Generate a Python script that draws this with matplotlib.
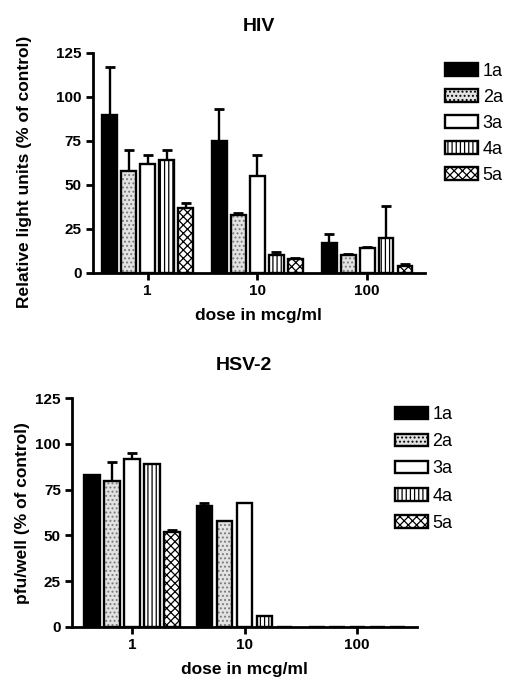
import matplotlib
matplotlib.use("Agg")
import matplotlib.pyplot as plt
import numpy as np
from matplotlib.patches import Patch

plt.rcParams['font.family'] = ['Liberation Sans', 'DejaVu Sans']
plt.rcParams['hatch.linewidth'] = 0.9

doses = ["1", "10", "100"]
compounds = ["1a", "2a", "3a", "4a", "5a"]

hiv_vals = {
    "1a": [90, 75, 17],
    "2a": [58, 33, 10],
    "3a": [62, 55, 14],
    "4a": [64, 10, 20],
    "5a": [37, 8, 4],
}
hiv_err = {
    "1a": [27, 18, 5],
    "2a": [12, 1, 1],
    "3a": [5, 12, 0.5],
    "4a": [6, 2, 18],
    "5a": [3, 0.5, 1],
}
hsv_vals = {
    "1a": [83, 66, 0],
    "2a": [80, 58, 0],
    "3a": [92, 68, 0],
    "4a": [89, 6, 0],
    "5a": [52, 0, 0],
}
hsv_err = {
    "1a": [0, 2, 0],
    "2a": [10, 0, 0],
    "3a": [3, 0, 0],
    "4a": [0, 0, 0],
    "5a": [1, 0, 0],
}

# facecolor, hatch, hatch colour
styles = {
    "1a": ("black", None, "black"),
    "2a": ("#e2e2e2", "....", "#7a7a7a"),
    "3a": ("white", None, "black"),
    "4a": ("white", "||||", "black"),
    "5a": ("white", "xxxx", "black"),
}

fig = plt.figure(figsize=(5.07, 6.79), dpi=100)


def draw(ax, vals, errs, title, ylabel, xlim, spacing, width, legend_pos,
         title_pad, leg_spacing):
    x = np.arange(len(doses))
    for i, c in enumerate(compounds):
        off = (i - 2) * spacing
        v = np.array(vals[c], dtype=float)
        e = np.array(errs[c], dtype=float)
        fc, hatch, hc = styles[c]
        ax.bar(x + off, v, width, facecolor=fc, edgecolor=hc, linewidth=0,
               hatch=hatch, zorder=2)
        ax.bar(x + off, v, width, facecolor="none", edgecolor="black",
               linewidth=1.7, zorder=3)
        ax.errorbar(x + off, v, yerr=[np.zeros_like(e), e], fmt="none",
                    ecolor="black", elinewidth=1.7, capsize=3.5, capthick=2,
                    zorder=1)
    ax.set_xlim(*xlim)
    ax.set_ylim(0, 125)
    ax.set_yticks([0, 25, 50, 75, 100, 125])
    ax.set_xticks(x)
    ax.set_xticklabels(doses)
    for s in ["top", "right"]:
        ax.spines[s].set_visible(False)
    for s in ["left", "bottom"]:
        ax.spines[s].set_linewidth(2)
    ax.tick_params(axis="both", width=2, length=5, labelsize=11, pad=3)
    for lab in ax.get_xticklabels() + ax.get_yticklabels():
        lab.set_fontweight("bold")
    ax.set_title(title, fontsize=14, fontweight="bold", pad=title_pad)
    ax.set_xlabel("dose in mcg/ml", fontsize=12.5, fontweight="bold", labelpad=7)
    ax.set_ylabel(ylabel, fontsize=12.5, fontweight="bold")
    handles = []
    for c in compounds:
        fc, hatch, hc = styles[c]
        handles.append(Patch(facecolor=fc, edgecolor="black", hatch=hatch,
                             linewidth=1.7, label=c))
    ax.legend(handles=handles, loc="upper left", bbox_to_anchor=legend_pos,
              frameon=False, fontsize=13, handlelength=1.85, handleheight=0.7,
              labelspacing=leg_spacing, handletextpad=0.25, borderaxespad=0,
              borderpad=0)


ax1 = fig.add_axes([0.183, 0.598, 0.655, 0.324])
draw(ax1, hiv_vals, hiv_err, "HIV", "Relative light units (% of control)",
     (-0.5, 2.527), 0.173, 0.136, (1.06, 0.955), 16, 0.5)
ax1.yaxis.set_label_coords(-0.184, 0.46)

ax2 = fig.add_axes([0.142, 0.0766, 0.68, 0.337])
draw(ax2, hsv_vals, hsv_err, "HSV-2", "pfu/well (% of control)",
     (-0.533, 2.53), 0.178, 0.135, (0.936, 0.965), 20, 0.56)
ax2.yaxis.set_label_coords(-0.122, 0.5)

fig.savefig("out.png", dpi=100)
